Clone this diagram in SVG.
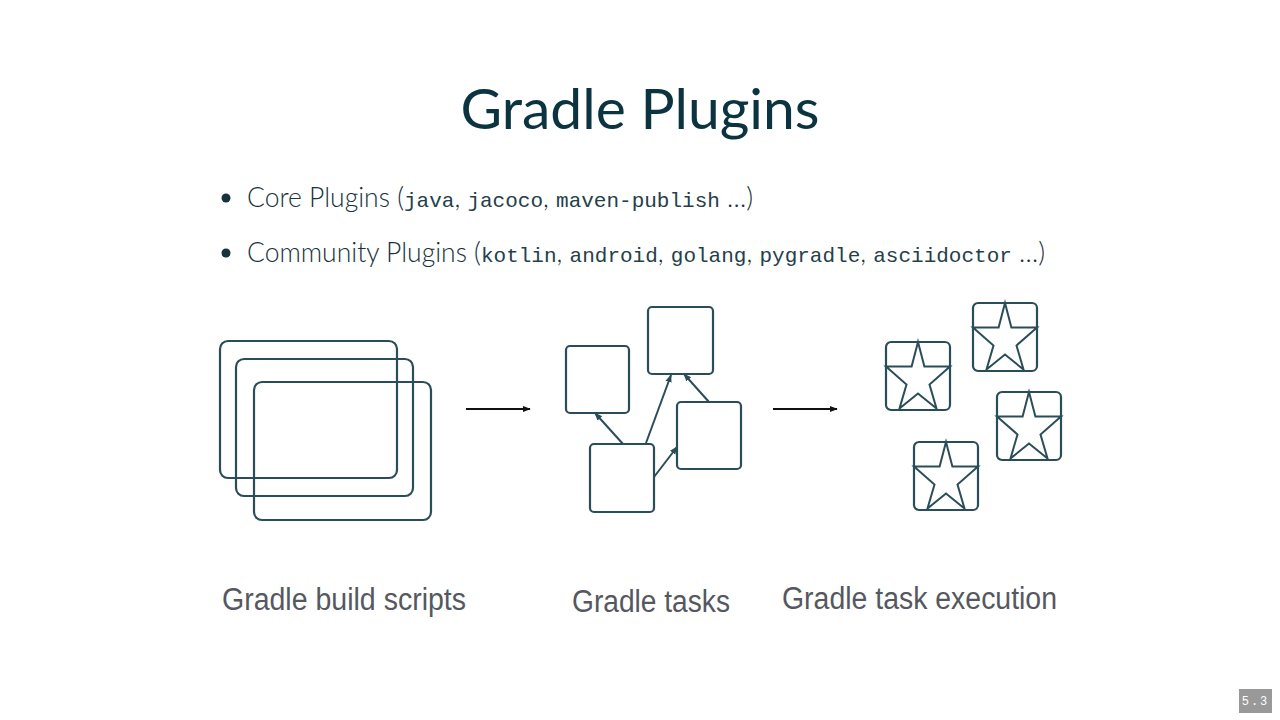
<svg xmlns="http://www.w3.org/2000/svg" width="1280" height="720" viewBox="0 0 1280 720">
<style>
.title{font-family:Lato,"Open Sans",sans-serif;font-size:57px;fill:#0b3440}
.body{font-family:Lato,"Open Sans",sans-serif;font-size:26.5px;font-weight:300;fill:#16323d}
.mono{font-family:"Liberation Mono","DejaVu Sans Mono",monospace;font-size:21px;font-weight:normal;fill:#24404a}
.lbl{font-family:"Liberation Sans",Arial,sans-serif;font-size:31px;fill:#555860}
.box{fill:none;stroke:#2a4d5a;stroke-width:2.2}
.star{fill:none;stroke:#2a4d5a;stroke-width:2;stroke-linejoin:miter}
.dep{fill:none;stroke:#2a4d5a;stroke-width:2}
.flow{fill:none;stroke:#111;stroke-width:2}
</style>
<defs>
<marker id="ah" viewBox="0 0 10 10" refX="9" refY="5" markerWidth="4" markerHeight="4" orient="auto"><path d="M0,1 L10,5 L0,9 Z" fill="#111"/></marker>
<marker id="ahd" viewBox="0 0 10 10" refX="9" refY="5" markerWidth="4" markerHeight="4" orient="auto"><path d="M0,1 L10,5 L0,9 Z" fill="#2a4d5a"/></marker>
<g id="starbox">
<rect class="box" x="0" y="0" width="64" height="68" rx="5"/>
<path class="star" d="M32,0 L38.4,24.5 L64,24.5 L43.5,42.5 L50.5,66.5 L32,51.5 L13.5,66.5 L20.5,42.5 L0,24.5 L25.6,24.5 Z"/>
</g>
</defs>
<rect width="1280" height="720" fill="#fff"/>
<g id="title"><text class="title" x="640" y="129" text-anchor="middle">Gradle Plugins</text></g>
<g id="bullets">
<circle cx="226" cy="198" r="4.5" fill="#16323d"/>
<text class="body" x="247" y="207">Core Plugins (<tspan class="mono">java</tspan>, <tspan class="mono">jacoco</tspan>, <tspan class="mono">maven-publish</tspan> …)</text>
<circle cx="226" cy="253" r="4.5" fill="#16323d"/>
<text class="body" x="247" y="262">Community Plugins (<tspan class="mono">kotlin</tspan>, <tspan class="mono">android</tspan>, <tspan class="mono">golang</tspan>, <tspan class="mono">pygradle</tspan>, <tspan class="mono">asciidoctor</tspan> …)</text>
</g>
<g id="build-scripts">
<rect class="box" x="220" y="341" width="177" height="137" rx="8"/>
<rect class="box" x="236" y="359" width="177" height="137" rx="8"/>
<rect class="box" x="254" y="382" width="177" height="138" rx="8"/>
</g>
<g id="task-a"><rect class="box" x="566" y="346" width="63" height="67" rx="4"/></g>
<g id="task-b"><rect class="box" x="648" y="307" width="65" height="67" rx="4"/></g>
<g id="task-c"><rect class="box" x="677" y="402" width="64" height="67" rx="4"/></g>
<g id="task-d"><rect class="box" x="590" y="444" width="64" height="68" rx="4"/></g>
<g id="exec-1"><use href="#starbox" x="886" y="342"/></g>
<g id="exec-2"><use href="#starbox" x="973" y="303"/></g>
<g id="exec-3"><use href="#starbox" x="997" y="392"/></g>
<g id="exec-4"><use href="#starbox" x="914" y="442"/></g>
<g id="connectors">
<line class="flow" x1="466" y1="409" x2="530" y2="409" marker-end="url(#ah)"/>
<line class="flow" x1="773" y1="409" x2="837" y2="409" marker-end="url(#ah)"/>
<line class="dep" x1="623" y1="444" x2="595" y2="413" marker-end="url(#ahd)"/>
<line class="dep" x1="646" y1="443" x2="671" y2="375" marker-end="url(#ahd)"/>
<line class="dep" x1="654" y1="477" x2="677" y2="447" marker-end="url(#ahd)"/>
<line class="dep" x1="709" y1="402" x2="684" y2="374" marker-end="url(#ahd)"/>
</g>
<g id="labels">
<text class="lbl" x="222" y="610" textLength="244" lengthAdjust="spacingAndGlyphs">Gradle build scripts</text>
<text class="lbl" x="572" y="612" textLength="158" lengthAdjust="spacingAndGlyphs">Gradle tasks</text>
<text class="lbl" x="782" y="609" textLength="275" lengthAdjust="spacingAndGlyphs">Gradle task execution</text>
</g>
<g id="badge">
<rect x="1239" y="689" width="33" height="24" fill="#999"/>
<text x="1255.5" y="705" text-anchor="middle" font-family="Liberation Mono,monospace" font-size="12" fill="#fff" letter-spacing="2">5.3</text>
</g>
</svg>
